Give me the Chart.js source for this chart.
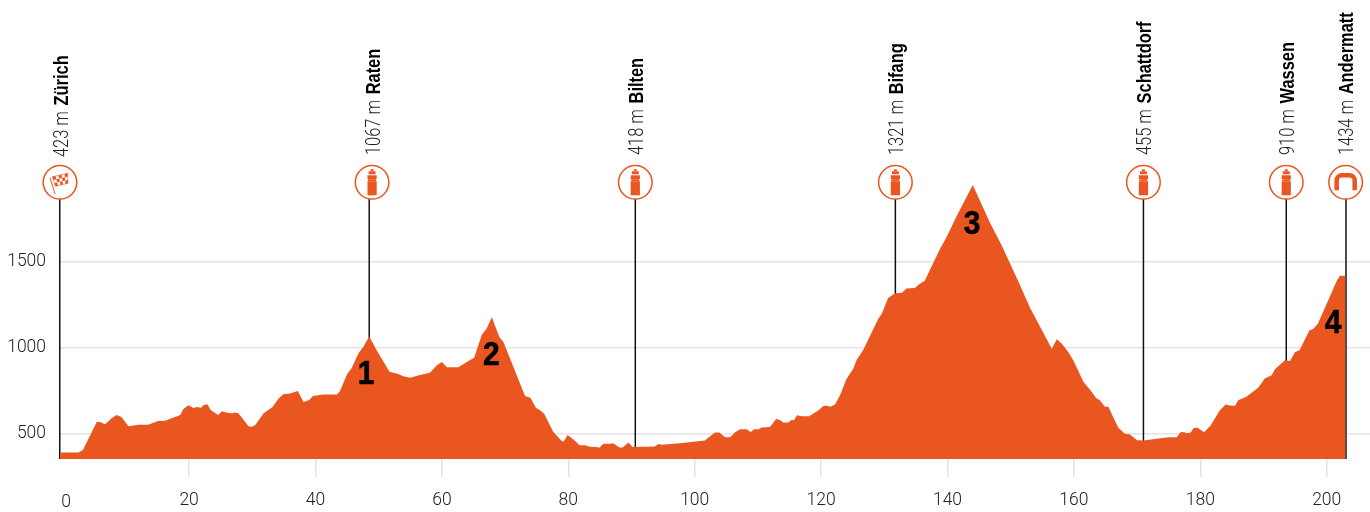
<!DOCTYPE html>
<html lang="en">
<head>
  <meta charset="UTF-8" />
  <title>Stage profile</title>
  <style>
    body { margin: 0; background: #fff; }
    canvas { display: block; }
  </style>
  <script src="https://cdn.jsdelivr.net/npm/chart.js"></script>
</head>
<body>
  <canvas id="profile" width="1370" height="512"></canvas>
  <script>
    // profile: distance in km, elevation in m
    const profileKm = [-0.43, 2.5, 3.2, 5.4, 5.9, 6.7, 7.75, 8.5, 9.3, 10.4, 12, 13.5, 15.1, 16.2, 18.6, 19.1, 19.9, 20.7, 21.2, 21.9, 22.3, 22.9, 23.4, 24.6, 25.2, 26.2, 26.8, 27.2, 27.8, 29.4, 30, 30.5, 31.8, 33.2, 34.1, 34.9, 36, 37.2, 38.1, 39, 39.6, 41.2, 43.4, 43.9,
      45, 45.7, 46.8, 47.6, 48.5, 49.7, 51.7, 52.85, 53.9, 55, 56.5, 58.1, 59.2, 60, 60.8, 62.6, 64.2, 65.1, 66.3, 67.1, 67.9, 69.1, 69.7, 73.15, 74, 74.9, 75.5, 76.2, 77.6, 79, 79.3, 79.9, 81.1, 81.75, 82.65, 83.4, 84.5, 84.9, 85.55, 86.6, 87.1, 88.1, 88.6, 89.5, 90.2, 93.7, 94.25, 94.8, 97.7,
      101.6, 102.4, 103.2, 103.9, 104.8, 105.6, 106.4, 107.2, 108.2, 108.85, 109.4, 110.1, 110.6, 111.9, 112.9, 113.5, 114, 114.8, 115.3, 115.7, 116.2, 116.9, 118.1, 119.6, 120.35, 120.9, 121.5, 122.2, 123, 124, 125.1, 125.6, 126.7, 129.05, 129.6, 130.6, 131.7, 132.75, 133.5, 134.85, 135.4, 136.4, 138.8, 139.9, 141.45, 144, 146.7, 148.6, 151.5,
      153.05, 156.5, 157.3, 158.1, 159.1, 159.9, 161.5, 162.8, 163.5, 164.1, 164.9, 165.45, 167, 168.1, 168.8, 170, 171, 174.95, 176.25, 176.9, 177.5, 177.85, 178.5, 178.9, 179.5, 180.6, 181.6, 183.1, 184, 184.7, 185.5, 186, 187.3, 189.2, 190.2, 191.3, 191.8, 193.4, 194.2, 195, 195.7, 197.25, 197.9, 198.6, 201.6, 202.1, 202.95];
    const profileElev = [392, 392, 407, 571, 569, 556, 591, 610, 598, 544, 554, 554, 575, 577, 610, 645, 666, 651, 656, 652, 668, 672, 639, 610, 631, 622, 620, 625, 620, 544, 542, 554, 620, 656, 703, 730, 735, 749, 685, 697, 720, 728, 728, 750,
      847, 880, 967, 1006, 1064, 983, 861, 851, 834, 826, 842, 855, 898, 917, 886, 886, 923, 942, 1073, 1112, 1176, 1060, 1035, 720, 710, 651, 639, 616, 513, 458, 458, 494, 459, 434, 434, 426, 424, 420, 444, 444, 446, 422, 422, 450, 425, 427, 442, 438, 446,
      462, 485, 508, 508, 481, 481, 510, 527, 527, 512, 527, 527, 538, 540, 587, 581, 567, 567, 581, 579, 608, 602, 602, 638, 662, 663, 658, 671, 725, 817, 879, 927, 990, 1167, 1196, 1287, 1315, 1317, 1342, 1346, 1365, 1388, 1571, 1644, 1763, 1942, 1725, 1590, 1360,
      1231, 994, 1048, 1023, 975, 927, 802, 744, 708, 696, 658, 658, 538, 500, 498, 463, 462, 481, 481, 512, 510, 504, 508, 533, 538, 510, 548, 638, 671, 665, 663, 696, 715, 769, 821, 840, 875, 927, 923, 975, 985, 1100, 1110, 1138, 1388, 1417, 1417];

    const stopNames = ['Zürich', 'Raten', 'Bilten', 'Bifang', 'Schattdorf', 'Wassen', 'Andermatt'];
    const stopHeights = ['423 m', '1067 m', '418 m', '1321 m', '455 m', '910 m', '1434 m'];
    const stopKm = [-0.47, 48.5, 90.6, 131.75, 171, 193.6, 203.05];
    const iconKm = [-0.43, 48.95, 90.6, 131.75, 171, 193.6, 203];
    const stopIcons = ['flag', 'bottle', 'bottle', 'bottle', 'bottle', 'bottle', 'arch'];

    const climbLabels = ['1', '2', '3', '4'];
    const climbKm = [48.0, 67.8, 143.9, 201];
    const climbElev = [845, 956, 1715, 1141];

    const xTicks = [0, 20, 40, 60, 80, 100, 120, 140, 160, 180, 200];
    const yTicks = [500, 1000, 1500];

    const ORANGE = '#ea561f';
    const ICON_ELEV = 1958;
    const Y_MIN = 355;
    const NARROW = 0.82; // the original face is condensed, none is installed
    const LIGHT = '300 17.5px Roboto, "Liberation Sans", sans-serif';

    function drawBottle(ctx) {
      ctx.fillRect(-1.5, -13, 3, 2);
      ctx.fillRect(-3.5, -11, 7, 3);
      ctx.fillRect(-4.6, -7, 9.2, 4);
      ctx.fillRect(-4, -3, 8, 2);
      ctx.fillRect(-4.6, -1, 9.2, 14);
    }

    function drawFlag(ctx) {
      // checker cells laid on a tilted flag
      const rows = 3, cols = 5;
      const tl = [-7.5, -5.5], tr = [7.5, -9], bl = [-4.5, 4], br = [8, 1];
      const at = (u, v) => [
        (tl[0] * (1 - u) + tr[0] * u) * (1 - v) + (bl[0] * (1 - u) + br[0] * u) * v,
        (tl[1] * (1 - u) + tr[1] * u) * (1 - v) + (bl[1] * (1 - u) + br[1] * u) * v
      ];
      for (let r = 0; r < rows; r++) {
        for (let c = 0; c < cols; c++) {
          if ((r + c) % 2) continue;
          const p = [at(c / cols, r / rows), at((c + 1) / cols, r / rows), at((c + 1) / cols, (r + 1) / rows), at(c / cols, (r + 1) / rows)];
          ctx.beginPath();
          ctx.moveTo(p[0][0], p[0][1]);
          p.slice(1).forEach(q => ctx.lineTo(q[0], q[1]));
          ctx.closePath();
          ctx.fill();
        }
      }
      ctx.beginPath();
      ctx.moveTo(-10, -4.5);
      ctx.lineTo(-5, 11.5);
      ctx.lineWidth = 1;
      ctx.stroke();
      ctx.beginPath();
      ctx.moveTo(tl[0], tl[1]);
      ctx.lineTo(tr[0], tr[1]);
      ctx.lineTo(br[0], br[1]);
      ctx.lineTo(bl[0], bl[1]);
      ctx.closePath();
      ctx.lineWidth = 0.6;
      ctx.stroke();
    }

    function drawArch(ctx) {
      ctx.beginPath();
      ctx.moveTo(-9, 8);
      ctx.lineTo(-9, -2);
      ctx.arcTo(-9, -7, -4, -7, 5);
      ctx.lineTo(4, -7);
      ctx.arcTo(9, -7, 9, -2, 5);
      ctx.lineTo(9, 8);
      ctx.lineWidth = 4.5;
      ctx.stroke();
    }

    const iconDrawers = { flag: drawFlag, bottle: drawBottle, arch: drawArch };

    // the round markers, the rotated stop labels and the climb numbers
    const annotations = {
      id: 'annotations',
      afterDatasetsDraw(chart) {
        const { ctx, scales: { x, y } } = chart;
        ctx.save();

        stopNames.forEach((name, i) => {
          const cx = x.getPixelForValue(iconKm[i]);
          const cy = y.getPixelForValue(ICON_ELEV);
          ctx.beginPath();
          ctx.arc(cx, cy, 16.8, 0, Math.PI * 2);
          ctx.fillStyle = '#fff';
          ctx.fill();
          ctx.strokeStyle = ORANGE;
          ctx.lineWidth = 1.5;
          ctx.stroke();

          ctx.save();
          ctx.translate(cx, cy);
          ctx.fillStyle = ORANGE;
          iconDrawers[stopIcons[i]](ctx);
          ctx.restore();

          ctx.save();
          ctx.translate(cx + 7.5, i === 0 ? 157 : 155);
          ctx.rotate(-Math.PI / 2);
          ctx.scale(NARROW, 1);
          ctx.textAlign = 'left';
          ctx.textBaseline = 'alphabetic';
          ctx.font = '300 20px Roboto, "Liberation Sans", sans-serif';
          ctx.fillStyle = '#222';
          ctx.fillText(stopHeights[i], 0, 0);
          const w = ctx.measureText(stopHeights[i]).width;
          ctx.font = 'bold 20px "Liberation Sans", sans-serif';
          ctx.fillStyle = '#000';
          ctx.fillText(name, w + 7, 0);
          ctx.restore();
        });

        ctx.font = 'bold 34px "Liberation Sans", sans-serif';
        ctx.fillStyle = '#000';
        ctx.strokeStyle = '#000';
        ctx.lineWidth = 0.6;
        ctx.textAlign = 'center';
        ctx.textBaseline = 'middle';
        climbLabels.forEach((label, i) => {
          ctx.save();
          ctx.translate(x.getPixelForValue(climbKm[i]), y.getPixelForValue(climbElev[i]));
          ctx.scale(0.88, 1);
          ctx.fillText(label, 0, 0);
          ctx.strokeText(label, 0, 0);
          ctx.restore();
        });

        // the zero sits off its tick, a little right and lower
        ctx.font = LIGHT;
        ctx.fillStyle = '#222';
        ctx.fillText('0', 66, 503);
        ctx.restore();
      }
    };

    const stopLines = stopKm.map(km => ({
      data: [{ x: km, y: Y_MIN }, { x: km, y: ICON_ELEV }],
      borderColor: '#111',
      borderWidth: 1.5,
      pointRadius: 0,
      fill: false,
      clip: false,
      order: 2
    }));

    new Chart(document.getElementById('profile'), {
      type: 'line',
      data: {
        datasets: [{
          data: profileKm.map((km, i) => ({ x: km, y: profileElev[i] })),
          backgroundColor: ORANGE,
          borderWidth: 0,
          pointRadius: 0,
          tension: 0,
          fill: 'start',
          order: 1
        }, ...stopLines]
      },
      options: {
        responsive: false,
        animation: false,
        layout: { padding: 0 },
        plugins: { legend: { display: false }, tooltip: { enabled: false } },
        scales: {
          x: {
            type: 'linear',
            min: -0.43,
            max: 206.85,
            afterBuildTicks: scale => { scale.ticks = xTicks.map(v => ({ value: v })); },
            afterFit: scale => {
              scale.height = 53;
              scale.paddingLeft = 0;
              scale.paddingRight = 0;
            },
            border: { display: false },
            grid: {
              drawOnChartArea: false,
              tickLength: 18,
              lineWidth: 1.5,
              tickColor: c => (c.tick && c.tick.value === 0 ? 'transparent' : '#e4e4e4')
            },
            ticks: {
              autoSkip: false,
              maxRotation: 0,
              padding: 13,
              color: '#222',
              font: { family: 'Roboto, "Liberation Sans", sans-serif', size: 17.5, weight: '300' },
              callback: v => (v === 0 ? '' : String(v))
            }
          },
          y: {
            min: Y_MIN,
            max: 3014,
            afterBuildTicks: scale => { scale.ticks = yTicks.map(v => ({ value: v })); },
            afterFit: scale => {
              scale.width = 60;
              scale.paddingTop = 0;
              scale.paddingBottom = 0;
            },
            border: { display: false },
            grid: { color: '#e4e4e4', lineWidth: 1.5, drawTicks: false },
            ticks: {
              padding: 14,
              color: '#222',
              font: { family: 'Roboto, "Liberation Sans", sans-serif', size: 17.5, weight: '300' },
              callback: v => String(v)
            }
          }
        }
      },
      plugins: [annotations]
    });
  </script>
</body>
</html>
